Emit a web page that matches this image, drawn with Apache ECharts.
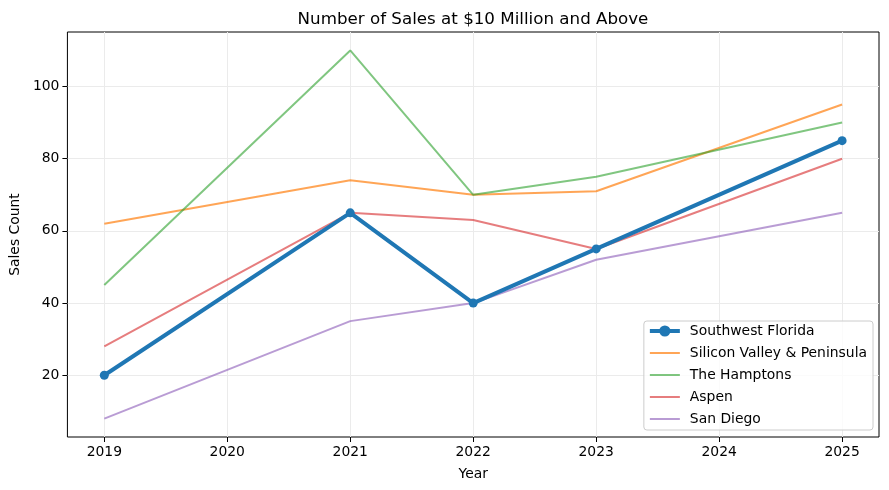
<!DOCTYPE html>
<html>
<head>
<meta charset="utf-8">
<script src="https://cdn.jsdelivr.net/npm/echarts@6/dist/echarts.min.js"></script>
<style>html,body{margin:0;padding:0;background:#fff}#c{width:889px;height:490px}</style>
</head>
<body>
<div id="c"></div>
<script>
const years = [2019, 2021, 2022, 2023, 2025];
const xTicks = [2019, 2020, 2021, 2022, 2023, 2024, 2025];
const yTicks = [20, 40, 60, 80, 100];
const southwestFlorida = [20, 65, 40, 55, 85];
const siliconValley = [62, 74, 70, 71, 95];
const hamptons = [45, 110, 70, 75, 90];
const aspen = [28, 65, 63, 55, 80];
const sanDiego = [8, 35, 40, 52, 65];
const seriesNames = ['Southwest Florida', 'Silicon Valley & Peninsula', 'The Hamptons', 'Aspen', 'San Diego'];

const font = 'DejaVu Sans';
const fs = 13.9;
const pair = arr => years.map((y, i) => [y, arr[i]]);

const chart = echarts.init(document.getElementById('c'), null, {renderer: 'canvas'});
const thin = (name, data, color) => ({
  name, type: 'line', data: pair(data), symbol: 'none', z: 2,
  lineStyle: {color, width: 2}, itemStyle: {color}, emphasis: {disabled: true}
});
chart.setOption({
  animation: false,
  backgroundColor: '#fff',
  title: {
    text: 'Number of Sales at $10 Million and Above',
    left: 468, top: 6, textAlign: 'center',
    textStyle: {fontFamily: font, fontSize: 16.7, fontWeight: 'normal', color: '#000'}
  },
  grid: {left: 67, right: 10, top: 32, bottom: 53, show: true, borderColor: '#000', borderWidth: 1, backgroundColor: 'transparent'},
  xAxis: {
    type: 'value', min: 2018.7, max: 2025.3,
    name: 'Year', nameLocation: 'middle', nameGap: 30,
    nameTextStyle: {fontFamily: font, fontSize: fs, color: '#000'},
    axisLine: {show: false},
    axisTick: {show: true, length: 5, inside: false, lineStyle: {color: '#000'}, customValues: xTicks},
    axisLabel: {fontFamily: font, fontSize: fs, color: '#000', margin: 8, customValues: xTicks, formatter: v => String(v)},
    splitLine: {show: true, lineStyle: {color: '#ebebeb', width: 1}}
  },
  yAxis: {
    type: 'value', min: 2.9, max: 115.1,
    name: 'Sales Count', nameLocation: 'middle', nameGap: 39, nameRotate: 90,
    nameTextStyle: {fontFamily: font, fontSize: fs, color: '#000'},
    axisLine: {show: false},
    axisTick: {show: true, length: 5, inside: false, lineStyle: {color: '#000'}, customValues: yTicks},
    axisLabel: {fontFamily: font, fontSize: fs, color: '#000', margin: 8, customValues: yTicks},
    splitLine: {show: true, lineStyle: {color: '#ebebeb', width: 1}}
  },
  legend: {
    orient: 'vertical', right: 16, bottom: 60,
    itemWidth: 30, itemHeight: 14, itemGap: 8,
    padding: [3, 6, 4, 4],
    backgroundColor: 'rgba(255,255,255,0.8)',
    borderColor: '#cccccc', borderWidth: 1, borderRadius: 3,
    textStyle: {fontFamily: font, fontSize: fs, color: '#000', padding: [0, 0, 0, 5]},
    data: seriesNames.map((n, i) => i === 0
      ? {name: n, lineStyle: {width: 4}}
      : {name: n, itemStyle: {opacity: 0}, lineStyle: {width: 2}})
  },
  series: [
    thin(seriesNames[1], siliconValley, 'rgba(255,127,14,0.7)'),
    thin(seriesNames[2], hamptons, 'rgba(44,160,44,0.6)'),
    thin(seriesNames[3], aspen, 'rgba(214,39,40,0.6)'),
    thin(seriesNames[4], sanDiego, 'rgba(148,103,189,0.65)'),
    {
      name: seriesNames[0], type: 'line', data: pair(southwestFlorida), z: 5,
      symbol: 'circle', symbolSize: 9,
      lineStyle: {color: '#1f77b4', width: 4}, itemStyle: {color: '#1f77b4'},
      emphasis: {disabled: true}
    }
  ]
});
</script>
</body>
</html>
